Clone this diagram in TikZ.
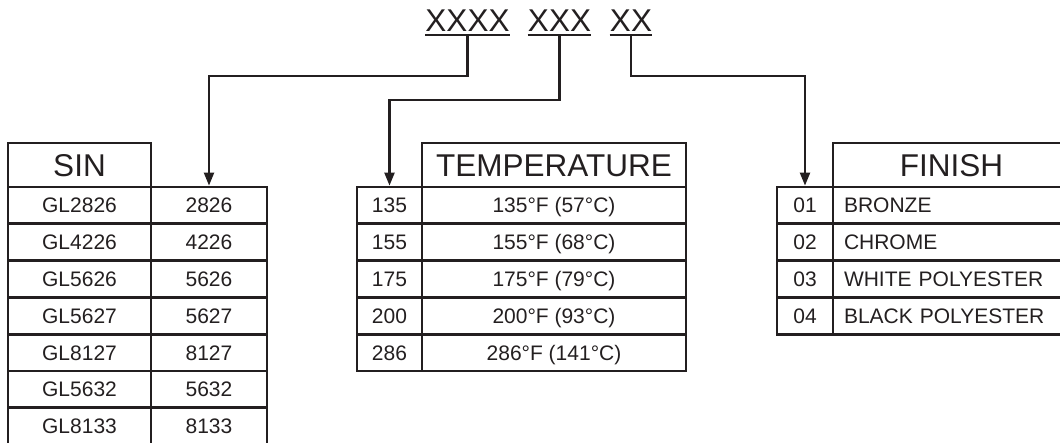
\documentclass[tikz,border=0pt]{standalone}
\usepackage{fontspec}
\setmainfont{Liberation Sans}
\usetikzlibrary{arrows.meta}
\definecolor{ink}{RGB}{35,31,32}

\begin{document}
\begin{tikzpicture}[x=0.5pt, y=-0.5pt, >={Triangle[length=6.5pt,width=5pt]},
    cell/.style={draw=ink, line width=1.4pt, inner sep=0pt, minimum height=18.4pt,
      text height=7.5pt, text depth=0pt, text=ink, font=\fontsize{10.5}{12}\selectfont},
    head/.style={cell, minimum height=22pt, text height=11.3pt, font=\fontsize{15.75}{18}\selectfont},
    code/.style={inner sep=0pt, anchor=base, text=ink, font=\fontsize{15.75}{18}\selectfont},
    link/.style={->, line width=1.1pt, draw=ink}]
        \useasboundingbox (0,0) rectangle (1060,443);
        \clip (0,0) rectangle (1060,443);
        % part number code
        \node[code] (cA) at (467.5,32) {XXXX};
        \node[code] (cB) at (559.5,32) {XXX};
        \node[code] (cC) at (631,32) {XX};
        \foreach \c in {cA,cB,cC}
            \draw[line width=1.1pt, ink] ([yshift=-1.5pt]\c.base west) -- ([yshift=-1.5pt]\c.base east);
        \coordinate (uA) at ([yshift=-1.5pt]cA.base);
        \coordinate (uB) at ([yshift=-1.5pt]cB.base);
        \coordinate (uC) at ([yshift=-1.5pt]cC.base);
        \coordinate (kA) at (0,76);
        \coordinate (kB) at (0,100);
        % SIN table
        \node[head, minimum width=71.5pt] (sinh) at (79.5,165) {SIN};
        \foreach \i/\a/\b in {1/GL2826/2826, 2/GL4226/4226, 3/GL5626/5626, 4/GL5627/5627,
                              5/GL8127/8127, 6/GL5632/5632, 7/GL8133/8133} {
            \node[cell, minimum width=71.5pt] (sa\i) at (79.5, {205.4+36.8*(\i-1)}) {\a};
            \node[cell, minimum width=58pt] (sb\i) at (209, {205.4+36.8*(\i-1)}) {\b};
        }
        % temperature table
        \node[head, minimum width=132pt] (temph) at (554,165) {TEMPERATURE};
        \foreach \i/\a/\b in {1/135/{135°F (57°C)}, 2/155/{155°F (68°C)}, 3/175/{175°F (79°C)},
                              4/200/{200°F (93°C)}, 5/286/{286°F (141°C)}} {
            \node[cell, minimum width=32.5pt] (ta\i) at (389.5, {205.4+36.8*(\i-1)}) {\a};
            \node[cell, minimum width=132pt] (tb\i) at (554, {205.4+36.8*(\i-1)}) {\b};
        }
        % finish table
        \node[head, minimum width=118.5pt] (finh) at (951.5,165) {FINISH};
        \foreach \i/\a/\b in {1/01/BRONZE, 2/02/CHROME, 3/03/WHITE POLYESTER, 4/04/BLACK POLYESTER} {
            \node[cell, minimum width=28pt] (fa\i) at (805, {205.4+36.8*(\i-1)}) {\a};
            \node[cell, inner xsep=5.5pt, text width=107.5pt, align=left] (fb\i) at (951.5, {205.4+36.8*(\i-1)}) {\b};
        }
        % connectors
        \draw[link] (uA) -- (uA |- kA) -| (sb1.north);
        \draw[link] (uB) -- (uB |- kB) -| (ta1.north);
        \draw[link] (uC) -- (uC |- kA) -| (fa1.north);
\end{tikzpicture}
\end{document}
